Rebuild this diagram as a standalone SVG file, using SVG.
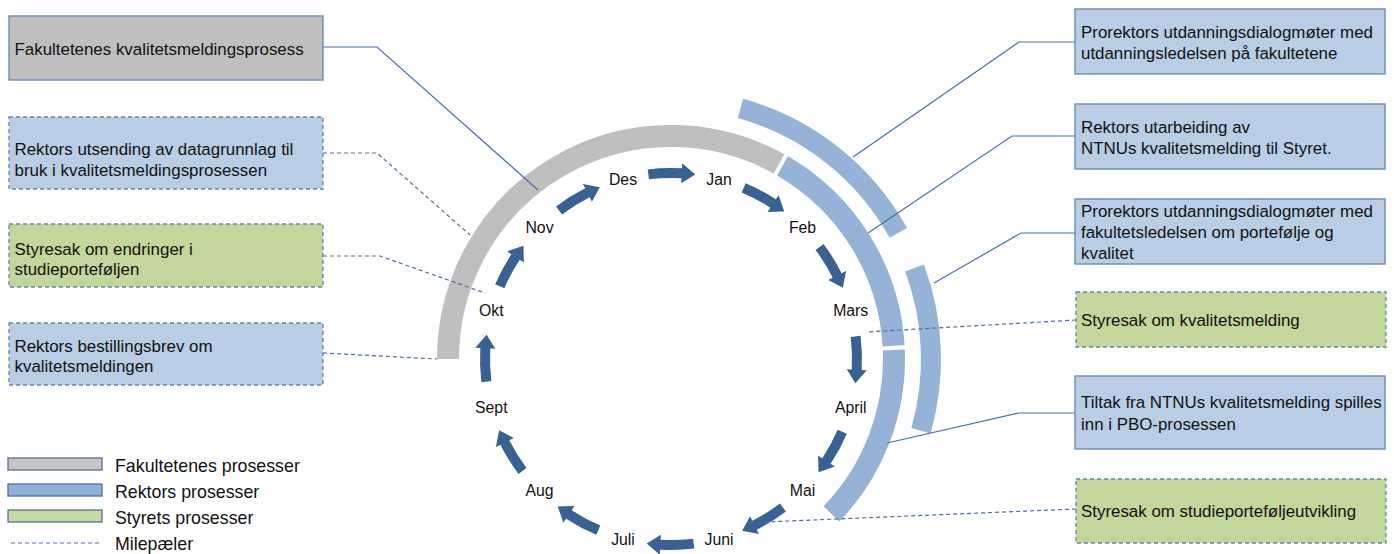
<svg xmlns="http://www.w3.org/2000/svg" xmlns:xlink="http://www.w3.org/1999/xlink" width="1394" height="554" viewBox="0 0 1394 554">
<style>
.box{stroke:#6385b2;stroke-width:1.3}
.dash{stroke-dasharray:4 3}
.gray{fill:#bfbfbf}
.blue{fill:#b9cde5}
.green{fill:#c3d69b}
.t{font-family:"Liberation Sans",Arial,sans-serif;font-size:16.9px;fill:#111}
.m{font-family:"Liberation Sans",Arial,sans-serif;font-size:15.8px;fill:#111;text-anchor:middle}
.lg{font-family:"Liberation Sans",Arial,sans-serif;font-size:17.8px;fill:#111}
.ring{fill:none;stroke-linecap:butt}
.conn{fill:none;stroke:#4a6fa5;stroke-width:1.2}
.arr{fill:#386194}
</style>
<defs>
<path id="arrow" d="M-23.28,-189.58 A191,191 0 0 1 11.00,-190.68 L11.28,-195.68 L24.28,-184.41 L10.13,-175.71 L10.42,-180.70 A181,181 0 0 0 -22.06,-179.65 Z"/>
</defs>
<rect width="1394" height="554" fill="#ffffff"/>

<g id="rings">
<path class="ring" d="M448,359 A223,223 0 0 1 779.11,163.96" stroke="#bfbfbf" stroke-width="22"/>
<path class="ring" d="M782.5,165.88 A223,223 0 0 1 893.61,345.77" stroke="#95b3d7" stroke-width="22"/>
<path class="ring" d="M893.82,350.05 A223,223 0 0 1 831.41,513.91" stroke="#95b3d7" stroke-width="22"/>
<path class="ring" d="M740.48,108.46 A260,260 0 0 1 898.40,232.95" stroke="#95b3d7" stroke-width="20"/>
<path class="ring" d="M914.53,267.95 A260,260 0 0 1 920.93,430.67" stroke="#95b3d7" stroke-width="20"/>
</g>

<g id="arrows" class="arr">
<use xlink:href="#arrow" href="#arrow" transform="translate(671,359) rotate(0)"/>
<use xlink:href="#arrow" href="#arrow" transform="translate(671,359) rotate(30)"/>
<use xlink:href="#arrow" href="#arrow" transform="translate(671,359) rotate(60)"/>
<use xlink:href="#arrow" href="#arrow" transform="translate(671,359) rotate(90)"/>
<use xlink:href="#arrow" href="#arrow" transform="translate(671,359) rotate(120)"/>
<use xlink:href="#arrow" href="#arrow" transform="translate(671,359) rotate(150)"/>
<use xlink:href="#arrow" href="#arrow" transform="translate(671,359) rotate(180)"/>
<use xlink:href="#arrow" href="#arrow" transform="translate(671,359) rotate(210)"/>
<use xlink:href="#arrow" href="#arrow" transform="translate(671,359) rotate(240)"/>
<use xlink:href="#arrow" href="#arrow" transform="translate(671,359) rotate(270)"/>
<use xlink:href="#arrow" href="#arrow" transform="translate(671,359) rotate(300)"/>
<use xlink:href="#arrow" href="#arrow" transform="translate(671,359) rotate(330)"/>
</g>

<g id="months">
<text class="m" x="623" y="184.5">Des</text>
<text class="m" x="719" y="184.5">Jan</text>
<text class="m" x="802.5" y="233">Feb</text>
<text class="m" x="850.7" y="316.4">Mars</text>
<text class="m" x="850.7" y="412.6">April</text>
<text class="m" x="802.5" y="496">Mai</text>
<text class="m" x="719" y="544.5">Juni</text>
<text class="m" x="623" y="544.5">Juli</text>
<text class="m" x="539.5" y="496">Aug</text>
<text class="m" x="491.3" y="412.6">Sept</text>
<text class="m" x="491.3" y="316.4">Okt</text>
<text class="m" x="539.5" y="233">Nov</text>
</g>

<g id="connectors">
<path class="conn" d="M323,47 L377,47 L538,190"/>
<path class="conn dash" d="M323,153 L377,153 L470,235"/>
<path class="conn dash" d="M323,256 L380,256 L485,293"/>
<path class="conn dash" d="M323,353 L437,359"/>
<path class="conn" d="M1075,42 L1019,42 L853,157"/>
<path class="conn" d="M1075,136 L1012,136 L868,233"/>
<path class="conn" d="M1075,233 L1021,233 L934,283"/>
<path class="conn dash" d="M1076,320 L866,332"/>
<path class="conn" d="M1075,413 L1019,413 L887,443"/>
<path class="conn dash" d="M1076,509 L765,522"/>
</g>

<g id="box-fak">
<rect class="box gray" x="9" y="16" width="314" height="64"/>
<text class="t" x="14.5" y="55">Fakultetenes kvalitetsmeldingsprosess</text>
</g>
<g id="box-datagrunnlag">
<rect class="box blue dash" x="9" y="117" width="314" height="72"/>
<text class="t" x="14.5" y="155">Rektors utsending av datagrunnlag til</text>
<text class="t" x="14.5" y="176">bruk i kvalitetsmeldingsprosessen</text>
</g>
<g id="box-endringer">
<rect class="box green dash" x="9" y="224" width="314" height="63"/>
<text class="t" x="14.5" y="255">Styresak om endringer i</text>
<text class="t" x="14.5" y="275">studieporteføljen</text>
</g>
<g id="box-bestilling">
<rect class="box blue dash" x="9" y="323" width="314" height="62"/>
<text class="t" x="14.5" y="352">Rektors bestillingsbrev om</text>
<text class="t" x="14.5" y="372">kvalitetsmeldingen</text>
</g>

<g id="box-dialog1">
<rect class="box blue" x="1075" y="9" width="310" height="65"/>
<text class="t" x="1081" y="38">Prorektors utdanningsdialogmøter med</text>
<text class="t" x="1081" y="59">utdanningsledelsen på fakultetene</text>
</g>
<g id="box-utarbeiding">
<rect class="box blue" x="1075" y="104" width="310" height="65"/>
<text class="t" x="1081" y="133">Rektors utarbeiding av</text>
<text class="t" x="1081" y="154">NTNUs kvalitetsmelding til Styret.</text>
</g>
<g id="box-dialog2">
<rect class="box blue" x="1075" y="199" width="310" height="65"/>
<text class="t" x="1081" y="217">Prorektors utdanningsdialogmøter med</text>
<text class="t" x="1081" y="238">fakultetsledelsen om portefølje og</text>
<text class="t" x="1081" y="259">kvalitet</text>
</g>
<g id="box-styresak-km">
<rect class="box green dash" x="1076" y="292" width="310" height="55"/>
<text class="t" x="1081" y="326">Styresak om kvalitetsmelding</text>
</g>
<g id="box-tiltak">
<rect class="box blue" x="1075" y="376" width="310" height="73"/>
<text class="t" x="1081" y="408">Tiltak fra NTNUs kvalitetsmelding spilles</text>
<text class="t" x="1081" y="430">inn i PBO-prosessen</text>
</g>
<g id="box-styresak-sp">
<rect class="box green dash" x="1076" y="479" width="310" height="64"/>
<text class="t" x="1081" y="517">Styresak om studieporteføljeutvikling</text>
</g>

<g id="legend">
<rect x="8" y="458" width="94" height="12" fill="#c6c6c6" stroke="#5a7196" stroke-width="1.3"/>
<rect x="8" y="484" width="94" height="12" fill="#8eb1dc" stroke="#4e6f9e" stroke-width="1.3"/>
<rect x="8" y="510" width="94" height="12" fill="#c4da9e" stroke="#5a7196" stroke-width="1.3"/>
<line x1="11" y1="543" x2="100" y2="543" class="conn dash"/>
<text class="lg" x="115" y="472">Fakultetenes prosesser</text>
<text class="lg" x="115" y="498">Rektors prosesser</text>
<text class="lg" x="115" y="524">Styrets prosesser</text>
<text class="lg" x="115" y="550">Milepæler</text>
</g>
</svg>
